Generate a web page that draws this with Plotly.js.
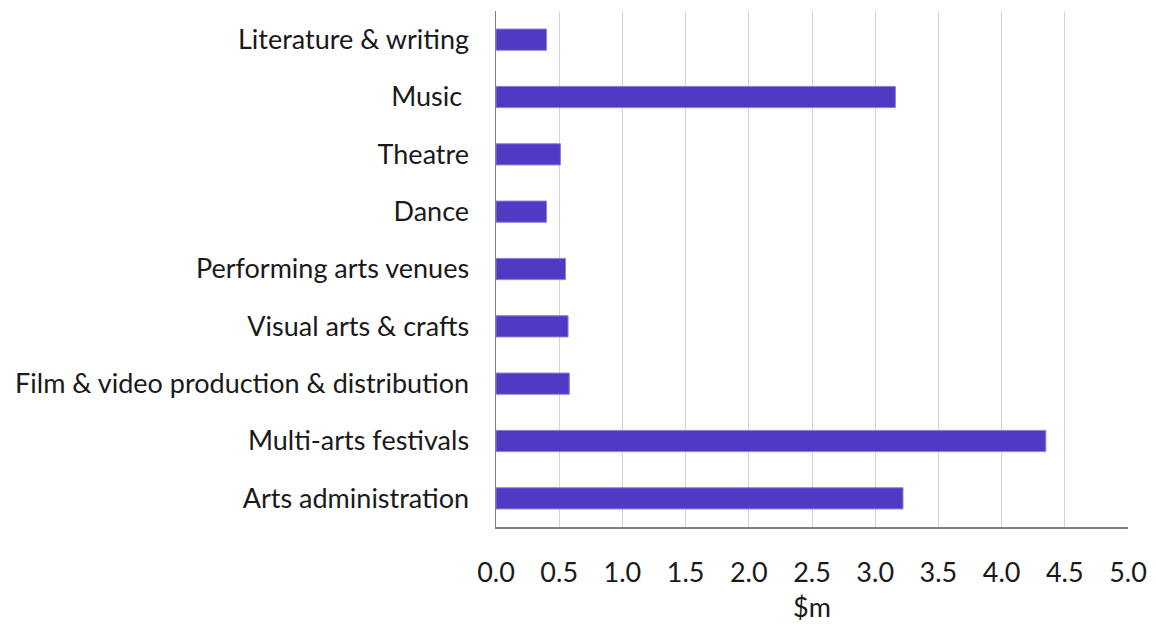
<!DOCTYPE html>
<html>
<head>
<meta charset="utf-8">
<script src="https://cdn.plot.ly/plotly-3.0.1.min.js"></script>
<style>html,body{margin:0;padding:0;background:#fff;}#chart{width:1156px;height:627px;}</style>
</head>
<body>
<div id="chart"></div>
<script>
const categories = ["Literature & writing","Music ","Theatre","Dance","Performing arts venues","Visual arts & crafts","Film & video production & distribution","Multi-arts festivals","Arts administration"];
const values = [0.40, 3.16, 0.51, 0.40, 0.55, 0.57, 0.58, 4.35, 3.22];
const xTicks = [0,0.5,1,1.5,2,2.5,3,3.5,4,4.5,5];
const xTickLabels = ["0.0","0.5","1.0","1.5","2.0","2.5","3.0","3.5","4.0","4.5","5.0"];

const FONT = "Lato, 'Open Sans', sans-serif";
Plotly.newPlot('chart', [{
  type: 'bar',
  orientation: 'h',
  y: categories,
  x: values,
  marker: {color: '#4F3BC3', line: {color: '#8C80DC', width: 1}},
  hoverinfo: 'x+y'
}], {
  width: 1156, height: 627,
  margin: {l: 496, r: 28, t: 11, b: 100, pad: 0},
  paper_bgcolor: '#fff', plot_bgcolor: '#fff',
  bargap: 0.63,
  showlegend: false,
  font: {family: FONT, size: 27, color: '#1a1a1a'},
  xaxis: {
    range: [0, 5],
    tickvals: xTicks, ticktext: xTickLabels,
    showgrid: true, gridcolor: '#d4d4d4', gridwidth: 1,
    showline: true, linecolor: '#808080', linewidth: 1.5,
    zeroline: false,
    ticks: 'outside', ticklen: 0,
    ticklabelstandoff: 21,
    tickfont: {family: FONT, size: 27, color: '#1a1a1a'},
    title: {text: '$m', font: {family: FONT, size: 27, color: '#1a1a1a'}, standoff: 11},
    automargin: false, fixedrange: true
  },
  yaxis: {
    autorange: 'reversed',
    showline: true, linecolor: '#808080', linewidth: 1.5,
    showgrid: false, zeroline: false,
    ticks: 'outside', ticklen: 0,
    ticklabelstandoff: 20,
    tickfont: {family: FONT, size: 27, color: '#1a1a1a'},
    automargin: false, fixedrange: true
  }
}, {displayModeBar: false, staticPlot: true});
</script>
</body>
</html>
